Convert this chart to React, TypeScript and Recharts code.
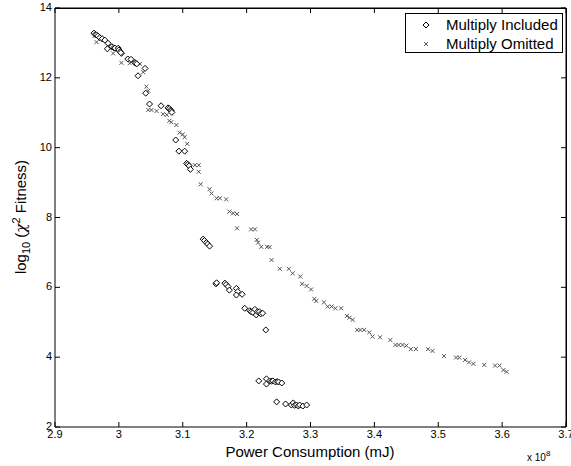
import React from 'react';
import { ScatterChart, Scatter, XAxis, YAxis, Legend, ReferenceLine } from 'recharts';

// power consumption (x 10^8 mJ), log10 fitness
const includedPoints: [number, number][] = [
  [2.961, 13.28], [2.963, 13.24], [2.965, 13.23], [2.967, 13.2], [2.97, 13.15], [2.974, 13.12],
  [2.978, 13.08], [2.983, 12.99], [2.982, 12.83], [2.989, 12.89], [2.992, 12.86], [2.994, 12.85],
  [2.999, 12.85], [3.0, 12.8], [3.002, 12.75], [3.004, 12.7], [3.003, 12.72], [3.014, 12.54],
  [3.019, 12.53], [3.025, 12.44], [3.026, 12.42], [3.028, 12.4], [3.041, 12.27], [3.03, 12.06],
  [3.042, 11.56], [3.048, 11.25], [3.066, 11.2], [3.077, 11.14], [3.079, 11.12], [3.081, 11.08],
  [3.082, 11.05], [3.083, 11.01],
  [3.089, 10.22], [3.094, 9.9], [3.103, 9.9], [3.106, 9.55], [3.108, 9.52], [3.11, 9.48], [3.112, 9.38],
  [3.132, 7.38], [3.134, 7.34], [3.137, 7.28], [3.139, 7.24], [3.142, 7.18],
  [3.152, 6.1], [3.153, 6.13], [3.166, 6.12], [3.168, 6.08], [3.171, 6.02], [3.173, 5.92],
  [3.184, 5.97], [3.186, 5.88], [3.184, 5.78], [3.193, 5.8],
  [3.197, 5.4], [3.205, 5.33], [3.207, 5.3], [3.21, 5.28], [3.213, 5.37], [3.215, 5.21],
  [3.217, 5.3], [3.22, 5.3], [3.222, 5.24], [3.225, 5.26], [3.23, 4.78],
  [3.219, 3.32], [3.231, 3.38], [3.231, 3.23], [3.236, 3.32], [3.239, 3.31], [3.241, 3.32],
  [3.245, 3.29], [3.248, 3.3], [3.25, 3.29], [3.255, 3.26],
  [3.247, 2.72], [3.261, 2.66], [3.27, 2.63], [3.273, 2.69], [3.275, 2.62], [3.278, 2.63],
  [3.281, 2.6], [3.283, 2.63], [3.288, 2.6], [3.294, 2.63],
];

const omittedPoints: [number, number][] = [
  [2.962, 13.2], [2.965, 13.02], [2.975, 13.08], [2.984, 12.91], [2.991, 12.7], [2.998, 12.8],
  [3.004, 12.43], [3.017, 12.42], [3.033, 12.4], [3.038, 12.16], [3.043, 11.75], [3.046, 11.63],
  [3.046, 11.08], [3.051, 11.08], [3.059, 11.05], [3.069, 10.96], [3.075, 10.94], [3.079, 10.77],
  [3.082, 10.73], [3.09, 10.65], [3.095, 10.43], [3.1, 10.38], [3.103, 10.3], [3.107, 10.11],
  [3.119, 9.5], [3.125, 9.5], [3.125, 9.31], [3.128, 8.95], [3.142, 8.81], [3.145, 8.69],
  [3.153, 8.55], [3.158, 8.55], [3.168, 8.52], [3.173, 8.17], [3.179, 8.12], [3.185, 8.1],
  [3.185, 7.69], [3.207, 7.66], [3.213, 7.66], [3.216, 7.36], [3.218, 7.28], [3.223, 7.16],
  [3.232, 7.16], [3.236, 7.15], [3.239, 6.78], [3.252, 6.53], [3.266, 6.53], [3.272, 6.4],
  [3.284, 6.31], [3.287, 6.1], [3.294, 6.04], [3.301, 5.94], [3.306, 5.67], [3.309, 5.61],
  [3.321, 5.57], [3.327, 5.45], [3.333, 5.45], [3.339, 5.4], [3.348, 5.4], [3.357, 5.18],
  [3.361, 5.13], [3.366, 5.07], [3.373, 4.78], [3.378, 4.78], [3.384, 4.78], [3.392, 4.71],
  [3.397, 4.59], [3.409, 4.57], [3.425, 4.49], [3.433, 4.35], [3.438, 4.35], [3.444, 4.35],
  [3.45, 4.33], [3.457, 4.23], [3.465, 4.23], [3.484, 4.23], [3.491, 4.18], [3.509, 4.03],
  [3.528, 3.99], [3.533, 3.99], [3.542, 3.92], [3.548, 3.85], [3.555, 3.81], [3.572, 3.78],
  [3.589, 3.76], [3.596, 3.76], [3.602, 3.63], [3.607, 3.58],
];

const seriesNames = ['Multiply Included', 'Multiply Omitted'];
const xTicks = [2.9, 3.0, 3.1, 3.2, 3.3, 3.4, 3.5, 3.6, 3.7];
const yTicks = [2, 4, 6, 8, 10, 12, 14];
const xDomain: [number, number] = [2.9, 3.7];
const yDomain: [number, number] = [2, 14];

const W = 571;
const H = 466;
const MARGIN = { top: 8, right: 5, bottom: 39, left: 55 };
const PLOT_TOP = MARGIN.top;
const PLOT_RIGHT = W - MARGIN.right;
const PLOT_W = PLOT_RIGHT - MARGIN.left;
const PLOT_H = H - MARGIN.bottom - PLOT_TOP;
const TICK = 5;

const FONT = '"Liberation Sans", Arial, Helvetica, sans-serif';
const crossColor = '#555';

const toRows = (pts: [number, number][]) => pts.map(([x, y]) => ({ x, y }));
const fmt = (v: number) => String(Number(v.toFixed(1)));

const Diamond = ({ cx, cy }: any) => (
  <path
    d={`M${cx},${cy - 3}L${cx + 3},${cy}L${cx},${cy + 3}L${cx - 3},${cy}Z`}
    fill="#fff"
    stroke="#000"
    strokeWidth={1}
  />
);

const Cross = ({ cx, cy }: any) => (
  <path
    d={`M${cx - 2},${cy - 2}L${cx + 2},${cy + 2}M${cx - 2},${cy + 2}L${cx + 2},${cy - 2}`}
    stroke={crossColor}
    strokeWidth={1}
    fill="none"
  />
);

// axes are mirrored so the tick marks point into the plot; labels are put back outside.
// each label also draws the matching inward tick on the opposite (top / right) edge.
const BottomTick = ({ x, y, payload }: any) => (
  <g>
    <path d={`M${x},${PLOT_TOP}v${TICK}`} stroke="#000" strokeWidth={1} fill="none" />
    <text x={x} y={y + TICK + 11} textAnchor="middle" fontSize={11} fontFamily={FONT} fill="#000">
      {fmt(payload.value)}
    </text>
  </g>
);
const LeftTick = ({ x, y, payload }: any) => (
  <g>
    <path d={`M${PLOT_RIGHT},${y}h${-TICK}`} stroke="#000" strokeWidth={1} fill="none" />
    <text x={x - TICK - 3} y={y + 3} textAnchor="end" fontSize={11} fontFamily={FONT} fill="#000">
      {payload.value}
    </text>
  </g>
);

const XTitle = () => (
  <g fontFamily={FONT} fill="#000">
    <text x={310} y={457} textAnchor="middle" fontSize={15}>
      Power Consumption (mJ)
    </text>
    <text x={527} y={461} fontSize={10}>
      x 10<tspan fontSize={8} dy={-5}>8</tspan>
    </text>
  </g>
);

const YTitle = () => (
  <text
    transform="translate(26,217) rotate(-90)"
    textAnchor="middle"
    fontSize={15}
    fontFamily={FONT}
    fill="#000"
  >
    log<tspan fontSize={11} dy={4}>10</tspan>
    <tspan dy={-4}> (</tspan>
    <tspan fontFamily="DejaVu Serif" fontStyle="italic">χ</tspan>
    <tspan fontSize={11} dy={-6}>2</tspan>
    <tspan dy={6}> Fitness)</tspan>
  </text>
);

// legend wrapper covers the plot area: it carries the top/right box edges and the legend box
const LegendBox = () => (
  <div
    style={{
      position: 'relative',
      width: PLOT_W + 1,
      height: PLOT_H,
      boxSizing: 'border-box',
      borderTop: '1px solid #000',
      borderRight: '1px solid #000',
      pointerEvents: 'none',
    }}
  >
    <div
      style={{
        position: 'absolute',
        left: 350,
        top: 4,
        width: 156,
        height: 38,
        border: '1px solid #000',
        background: '#fff',
        fontFamily: FONT,
        fontSize: 15,
        color: '#000',
      }}
    >
      {seriesNames.map((name, i) => (
        <div key={name} style={{ position: 'absolute', left: 0, top: 2 + i * 19, height: 18, width: 156 }}>
          <svg width={30} height={18} style={{ position: 'absolute', left: 5, top: 0 }}>
            {i === 0 ? <Diamond cx={15} cy={9} /> : <Cross cx={15} cy={9} />}
          </svg>
          <span style={{ position: 'absolute', left: 40, top: 0, lineHeight: '18px', whiteSpace: 'nowrap' }}>
            {name}
          </span>
        </div>
      ))}
    </div>
  </div>
);

export default function App() {
  return (
    <div style={{ position: 'absolute', left: 0, top: 0, width: W, height: H, background: '#fff' }}>
      <ScatterChart width={W} height={H} margin={MARGIN}>
        <XAxis
          dataKey="x"
          type="number"
          domain={xDomain}
          ticks={xTicks}
          allowDataOverflow
          height={39}
          mirror
          tickSize={TICK}
          tickMargin={0}
          tick={<BottomTick />}
          stroke="#000"
          tickLine={{ stroke: '#000' }}
          interval={0}
          label={<XTitle />}
        />
        <YAxis
          dataKey="y"
          type="number"
          domain={yDomain}
          ticks={yTicks}
          allowDataOverflow
          width={55}
          mirror
          tickSize={TICK}
          tickMargin={0}
          tick={<LeftTick />}
          stroke="#000"
          tickLine={{ stroke: '#000' }}
          interval={0}
          label={<YTitle />}
        />
        <ReferenceLine y={yDomain[1]} stroke="#000" strokeWidth={1} ifOverflow="visible" />
        <ReferenceLine x={xDomain[1]} stroke="#000" strokeWidth={1} ifOverflow="visible" />
        <Legend
          layout="horizontal"
          verticalAlign="middle"
          align="center"
          content={<LegendBox />}
          wrapperStyle={{ left: MARGIN.left, top: PLOT_TOP, width: PLOT_W + 1, height: PLOT_H, pointerEvents: 'none' }}
        />
        <Scatter
          name={seriesNames[1]}
          data={toRows(omittedPoints)}
          shape={<Cross />}
          isAnimationActive={false}
        />
        <Scatter
          name={seriesNames[0]}
          data={toRows(includedPoints)}
          shape={<Diamond />}
          isAnimationActive={false}
        />
      </ScatterChart>
    </div>
  );
}
